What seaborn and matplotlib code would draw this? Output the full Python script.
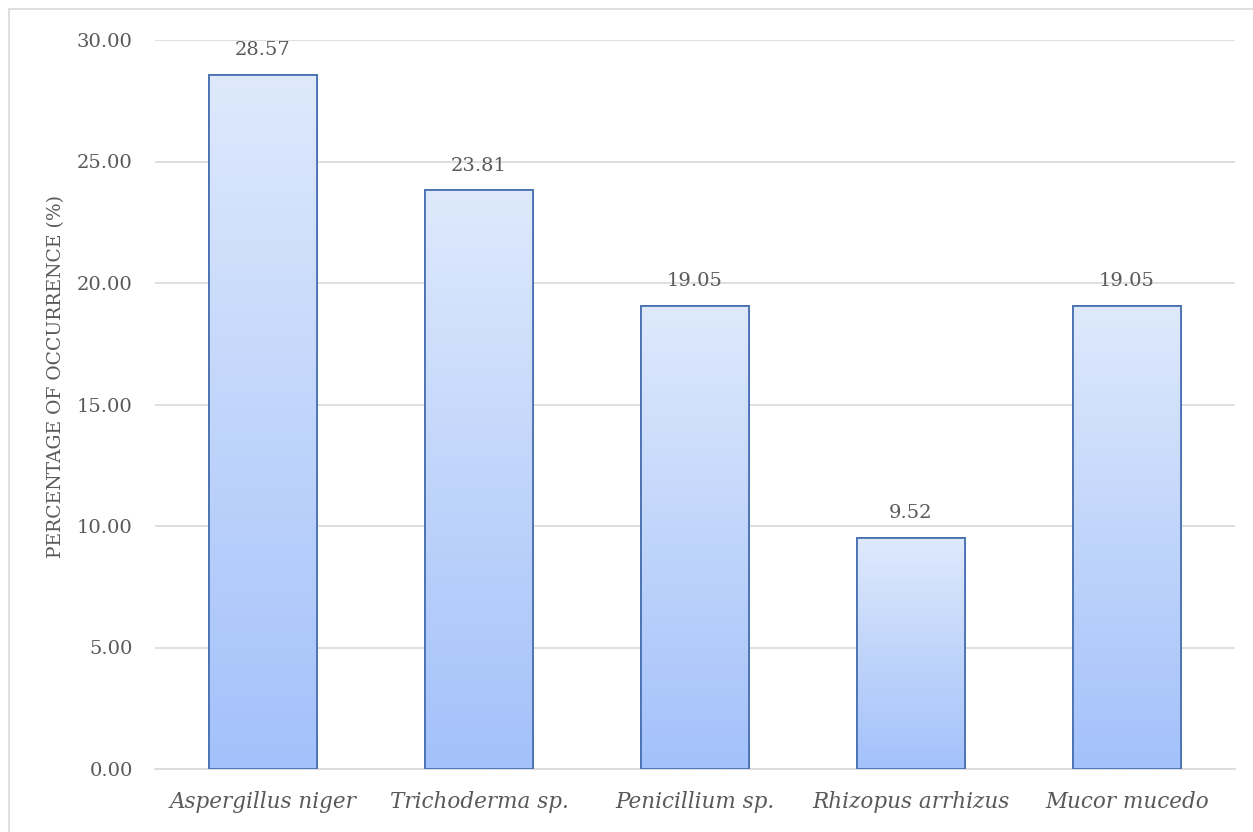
import numpy as np, pandas as pd
import matplotlib; matplotlib.use('Agg')
import matplotlib.pyplot as plt
import seaborn as sns
from matplotlib.colors import LinearSegmentedColormap
from matplotlib.lines import Line2D

species = ['Aspergillus niger', 'Trichoderma sp.', 'Penicillium sp.',
           'Rhizopus arrhizus', 'Mucor mucedo']
percent = [28.57, 23.81, 19.05, 9.52, 19.05]
yticks  = [0, 5, 10, 15, 20, 25, 30]

df = pd.DataFrame({'species': species, 'percent': percent})

sns.set_style('white')
plt.rcParams['font.family'] = ['DejaVu Serif']
GREY = '#595959'

fig = plt.figure(figsize=(12.53, 8.32), dpi=100)
ax = fig.add_axes([155/1253, 1-769/832, 1080/1253, 729/832])
sns.barplot(data=df, x='species', y='percent', ax=ax, width=0.5,
            color='#c8d9fb', edgecolor='#4a72b2', linewidth=1.3, zorder=3)
ax.set_ylim(0, 30)
ax.set_xlim(-0.5, len(species) - 0.5)

# gradient fill inside each bar
cmap = LinearSegmentedColormap.from_list('g', ['#a3c1fa', '#dee9fc'])
grad = np.linspace(0, 1, 256).reshape(-1, 1)
for p in ax.patches:
    x0, w, h = p.get_x(), p.get_width(), p.get_height()
    im = ax.imshow(grad, cmap=cmap, aspect='auto', origin='lower',
                   extent=[x0, x0 + w, 0, h], zorder=3.5)
    im.set_clip_path(p)
    ax.add_patch(plt.Rectangle((x0, 0), w, h, fill=False,
                               edgecolor='#4a72b2', linewidth=1.3, zorder=4))
    ax.text(x0 + w/2, h + 0.65, f'{h:.2f}', ha='center', va='bottom',
            fontsize=14, color=GREY)

ax.set_yticks(yticks)
ax.set_yticklabels([f'{v:.2f}' for v in yticks], fontsize=14, color=GREY)
ax.set_xticks(range(len(species)))
ax.set_xticklabels(species, fontsize=15.5, color=GREY, style='italic')
ax.tick_params(axis='both', length=0)
ax.tick_params(axis='x', pad=16)
ax.tick_params(axis='y', pad=16)
ax.yaxis.grid(True, color='#d9d9d9', linewidth=1.2, zorder=0)
ax.set_axisbelow(True)
for s in ['top', 'right', 'left']:
    ax.spines[s].set_visible(False)
ax.spines['bottom'].set_color('#d9d9d9')
ax.spines['bottom'].set_linewidth(1.2)
ax.set_xlabel('')
ax.set_ylabel('PERCENTAGE OF OCCURRENCE (%)', fontsize=13.5, color=GREY)
ax.yaxis.set_label_coords(-0.083, 0.538)

# outer chart border
fig.add_artist(Line2D([9/1253, 9/1253], [0, 1-9/832], color='#d9d9d9', lw=1.2))
fig.add_artist(Line2D([9/1253, 1], [1-9/832, 1-9/832], color='#d9d9d9', lw=1.2))

fig.savefig('out.png', dpi=100)
